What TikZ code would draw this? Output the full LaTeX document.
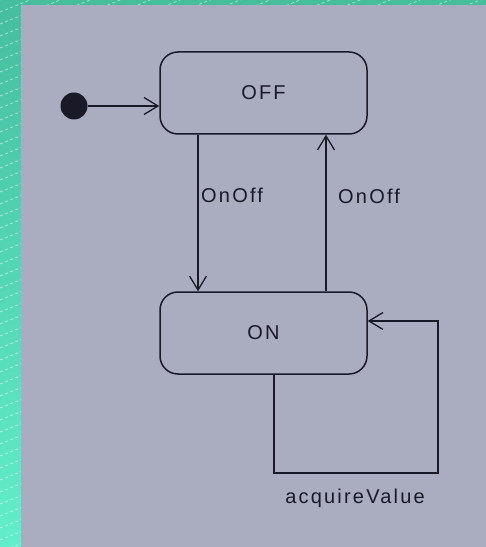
\documentclass[tikz,border=0pt]{standalone}
\usepackage{fontspec}
\setmainfont{Liberation Sans}
\newfontfamily\diagfont[LetterSpace=11]{Liberation Sans}
\usetikzlibrary{arrows.meta}
\definecolor{panel}{RGB}{170,173,192}
\definecolor{tealtop}{RGB}{70,190,158}
\definecolor{tealbot}{RGB}{98,238,202}
\definecolor{ink}{RGB}{25,25,40}
\tikzset{
  statebox/.style={draw=ink, line width=1.5bp, rounded corners=18bp,
    minimum width=207bp, minimum height=82bp, inner sep=0pt,
    font=\diagfont\fontsize{20bp}{23bp}\selectfont, text=ink},
  trans/.style={draw=ink, line width=1.5bp,
    -{Straight Barb[length=14bp, width=17bp, line width=1.3bp]}},
  lbl/.style={font=\diagfont\fontsize{20bp}{23bp}\selectfont, text=ink, inner sep=0pt},
  stripe/.style={white, opacity=0.5, line width=0.8bp, dash pattern=on 3bp off 2.5bp}
}
\begin{document}
\begin{tikzpicture}[x=1bp, y=-1bp]
\useasboundingbox (0,0) rectangle (486,547);
% background
\shade[top color=tealtop, bottom color=tealbot] (0,0) rectangle (486,547);
\begin{scope}
\clip (0,0) rectangle (486,547);
\foreach \k in {-5,...,70} {
  \draw[stripe] (0,\k*12) -- (486,\k*12-0.4*486);
}
\end{scope}
\fill[panel] (21,5) rectangle (486,547);

% states
\node[statebox] (off) at (263.5,93) {OFF};
\node[statebox] (on) at (263.5,333) {ON};
\node[circle, fill=ink, minimum size=27bp, inner sep=0pt] (init) at (74,106) {};

% transitions
\draw[trans] (init) -- (init -| off.west);
\draw[trans] ([xshift=-65.5bp]off.south) -- ([xshift=-65.5bp]on.north);
\draw[trans] ([xshift=62.5bp]on.north) -- ([xshift=62.5bp]off.south);
\coordinate (loopcorner) at (438,473);
\draw[trans] ([xshift=10.5bp]on.south) |- (loopcorner) |- ([yshift=12bp]on.east);

% labels
\node[lbl, anchor=west] (l1) at (201,195) {OnOff};
\node[lbl, anchor=west] (l2) at (338,196) {OnOff};
\node[lbl] (l3) at (355,498) {acquireValue};
\end{tikzpicture}
\end{document}
